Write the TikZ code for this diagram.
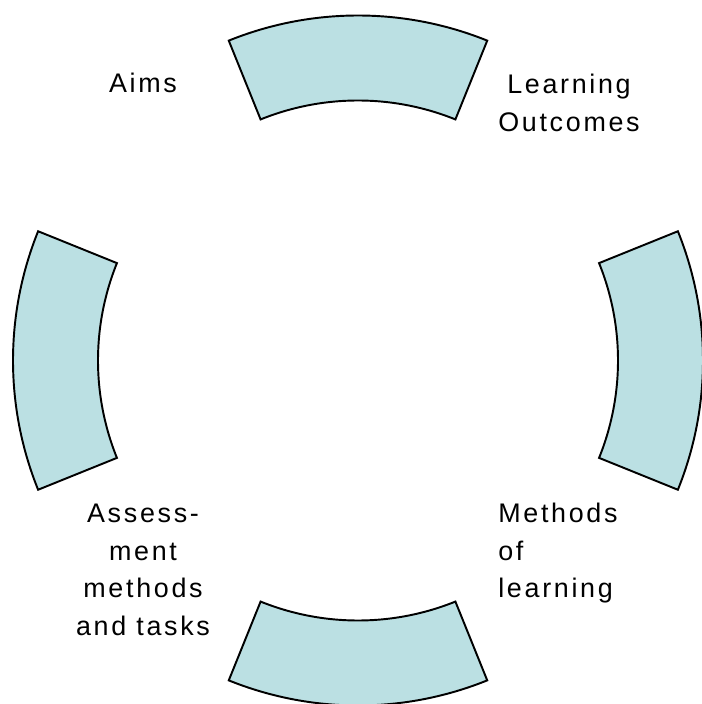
\documentclass[tikz,border=0pt]{standalone}
\usepackage{fontspec}
\setmainfont{Liberation Sans}
\newfontfamily\stagefont[LetterSpace=10]{Liberation Sans}
\definecolor{sectorblue}{HTML}{BBE0E3}
\tikzstyle{sector}=[draw, fill=sectorblue, line width=1.1pt]
\tikzstyle{stagetext}=[inner sep=0pt, font=\stagefont\fontsize{15.3}{21.3}\selectfont]

\begin{document}
\begin{tikzpicture}[x=0.02cm, y=0.02cm]
        \useasboundingbox (0,0) rectangle (701,704);
        \coordinate (centre) at (358,343.5);
        % four ring segments
        \foreach \a in {90,0,270,180}
            \draw[sector, shift={(centre)}] (\a-22:345) arc[start angle=\a-22, end angle=\a+22, radius=345]
                -- (\a+22:260) arc[start angle=\a+22, end angle=\a-22, radius=260] -- cycle;
        \node[stagetext, anchor=base] (aims) at (143,611) {Aims};
        \node[stagetext, anchor=north, align=center] (outcomes) at (569,630) {Learning\\Outcomes};
        \node[stagetext, anchor=north west, align=left] (methods) at (498,201) {Methods\\of\\learning};
        \node[stagetext, anchor=north, align=center] (assessment) at (143,200) {Assess-\\ment\\methods\\and tasks};
    \end{tikzpicture}
\end{document}
